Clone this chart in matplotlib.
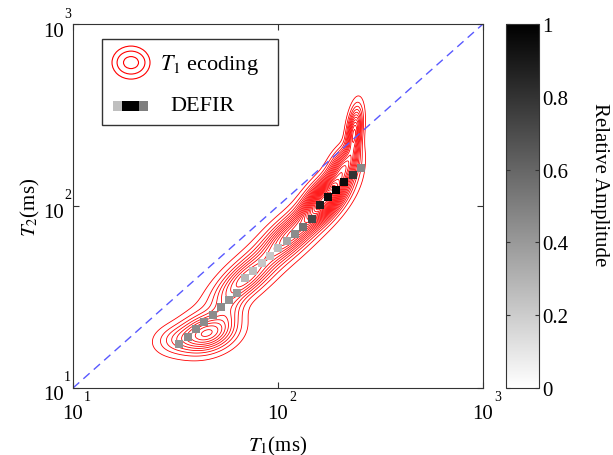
import numpy as np
import matplotlib.pyplot as plt
from matplotlib.patches import Ellipse, Rectangle

plt.rcParams['font.family'] = ['Liberation Serif', 'DejaVu Serif']
plt.rcParams['mathtext.fontset'] = 'stix'

# DEFIR cells: T1, T2 (ms) and relative amplitude
defir_t1 = [32.9, 36.4, 39.8, 43.6, 48.2, 52.7, 57.7, 63.1, 69.0, 75.5, 83.5, 91.4,
            100.0, 110.6, 121.0, 132.5, 146.5, 160.3, 175.4, 191.9, 209.9, 232.3, 254.2]
defir_t2 = [17.5, 19.1, 21.1, 23.1, 25.2, 27.9, 30.5, 33.3, 40.2, 44.0, 48.6, 53.1,
            58.7, 64.2, 70.2, 76.8, 84.9, 101.2, 111.9, 122.3, 135.4, 148.0, 161.8]
defir_amp = [0.42, 0.45, 0.45, 0.45, 0.45, 0.45, 0.42, 0.40, 0.28, 0.25, 0.22, 0.22,
             0.25, 0.35, 0.45, 0.55, 0.72, 0.88, 0.95, 1.0, 0.95, 0.80, 0.47]

# T1 encoding spectrum, described by its peaks (log10 ms)
peak_logt1 = [1.655, 1.50, 1.76, 1.84, 2.06, 2.23, 2.32, 2.372, 1.95]
peak_logt2 = [1.30, 1.265, 1.42, 1.60, 1.84, 2.04, 2.22, 2.40, 1.72]
peak_amp = [0.48, 0.12, 0.12, 0.35, 0.45, 1.00, 0.50, 0.55, 0.08]
peak_sd_along = [0.09, 0.07, 0.07, 0.12, 0.12, 0.10, 0.07, 0.09, 0.32]
peak_sd_across = [0.062, 0.05, 0.045, 0.05, 0.05, 0.046, 0.038, 0.022, 0.07]
peak_angle = [22, 10, 70, 45, 47, 55, 68, 84, 45]

diag = [10, 1000]
axis_ticks = [10, 100, 1000]
cbar_ticks = [0, 0.2, 0.4, 0.6, 0.8, 1]

u = np.linspace(1, 3, 400)
U, V = np.meshgrid(u, u)
Z = np.zeros_like(U)
for i in range(len(peak_amp)):
    th = np.deg2rad(peak_angle[i])
    du = U - peak_logt1[i]
    dv = V - peak_logt2[i]
    a = du * np.cos(th) + dv * np.sin(th)
    b = -du * np.sin(th) + dv * np.cos(th)
    Z += peak_amp[i] * np.exp(-0.5 * ((a / peak_sd_along[i])**2 + (b / peak_sd_across[i])**2))

fig = plt.figure(figsize=(6.13, 4.56), dpi=100)
ax = fig.add_axes([73/613, 67/456, 410/613, 364/456])

ax.contour(10**U, 10**V, Z, levels=np.arange(0.04, 1.2, 0.05), colors='red', linewidths=0.6)
ax.plot(diag, diag, '--', color=(0.35, 0.35, 1.0), lw=1, dashes=(6, 4))
sc = ax.scatter(defir_t1, defir_t2, c=defir_amp, cmap='gray_r', vmin=0, vmax=1,
                marker='s', s=34, linewidths=0, zorder=3)

ax.set_xscale('log')
ax.set_yscale('log')
ax.set_xlim(10, 1000)
ax.set_ylim(10, 1000)
ax.set_xticks(axis_ticks)
ax.set_yticks(axis_ticks)
ax.minorticks_off()
ax.tick_params(direction='in', length=4, top=True, right=True,
               labelbottom=False, labelleft=False, color='#333333')
for s in ax.spines.values():
    s.set_color('#333333')

# matlab style tick labels: 10 with exponent
for k, t in enumerate(axis_ticks):
    ax.annotate('10', xy=(t, 0), xycoords=('data', 'axes fraction'), xytext=(0, -26),
                textcoords='offset pixels', ha='center', va='center', fontsize=15)
    ax.annotate(str(k + 1), xy=(t, 0), xycoords=('data', 'axes fraction'), xytext=(11, -9),
                textcoords='offset pixels', ha='left', va='center', fontsize=10)
    ax.annotate('10', xy=(0, t), xycoords=('axes fraction', 'data'), xytext=(-9, -7),
                textcoords='offset pixels', ha='right', va='center', fontsize=15)
    ax.annotate(str(k + 1), xy=(0, t), xycoords=('axes fraction', 'data'), xytext=(-9, 11),
                textcoords='offset pixels', ha='left', va='center', fontsize=10)

ax.set_xlabel(r'$T_1$(ms)', fontsize=15)
ax.set_ylabel(r'$T_2$(ms)', fontsize=15)
ax.xaxis.set_label_coords(0.5, -0.125)
ax.yaxis.set_label_coords(-0.075, 0.5)

# legend
ax.add_patch(Rectangle((0.0707, 0.7225), 0.4293, 0.2365, transform=ax.transAxes,
                       facecolor='white', edgecolor='#333333', lw=1, zorder=5))
for w, h in [(0.0927, 0.0907), (0.068, 0.063), (0.0366, 0.033)]:
    ax.add_patch(Ellipse((0.1415, 0.894), w, h, transform=ax.transAxes,
                         fill=False, edgecolor='red', lw=0.8, zorder=6))
ax.text(0.212, 0.89, r'$T_1$ ecoding', transform=ax.transAxes, fontsize=16,
        va='center', ha='left', zorder=6)
for x0, w, g in [(0.0976, 0.022, 0.25), (0.1196, 0.041, 1.0), (0.1606, 0.022, 0.5)]:
    ax.add_patch(Rectangle((x0, 0.761), w, 0.0275, transform=ax.transAxes,
                           facecolor=plt.cm.gray_r(g), edgecolor='none', zorder=6))
ax.text(0.2366, 0.775, 'DEFIR', transform=ax.transAxes, fontsize=16,
        va='center', ha='left', zorder=6)

cax = fig.add_axes([506/613, 67/456, 33/613, 364/456])
cb = fig.colorbar(sc, cax=cax, ticks=cbar_ticks)
cb.ax.set_yticklabels(['0', '0.2', '0.4', '0.6', '0.8', '1'])
cb.ax.tick_params(direction='in', length=3, labelsize=15, pad=2, left=True, color='#333333')
cb.outline.set_edgecolor('#333333')
fig.text(600/613, 1 - 185/456, 'Relative Amplitude', rotation=270, fontsize=15,
         ha='center', va='center')

fig.savefig('out.png', dpi=100)
